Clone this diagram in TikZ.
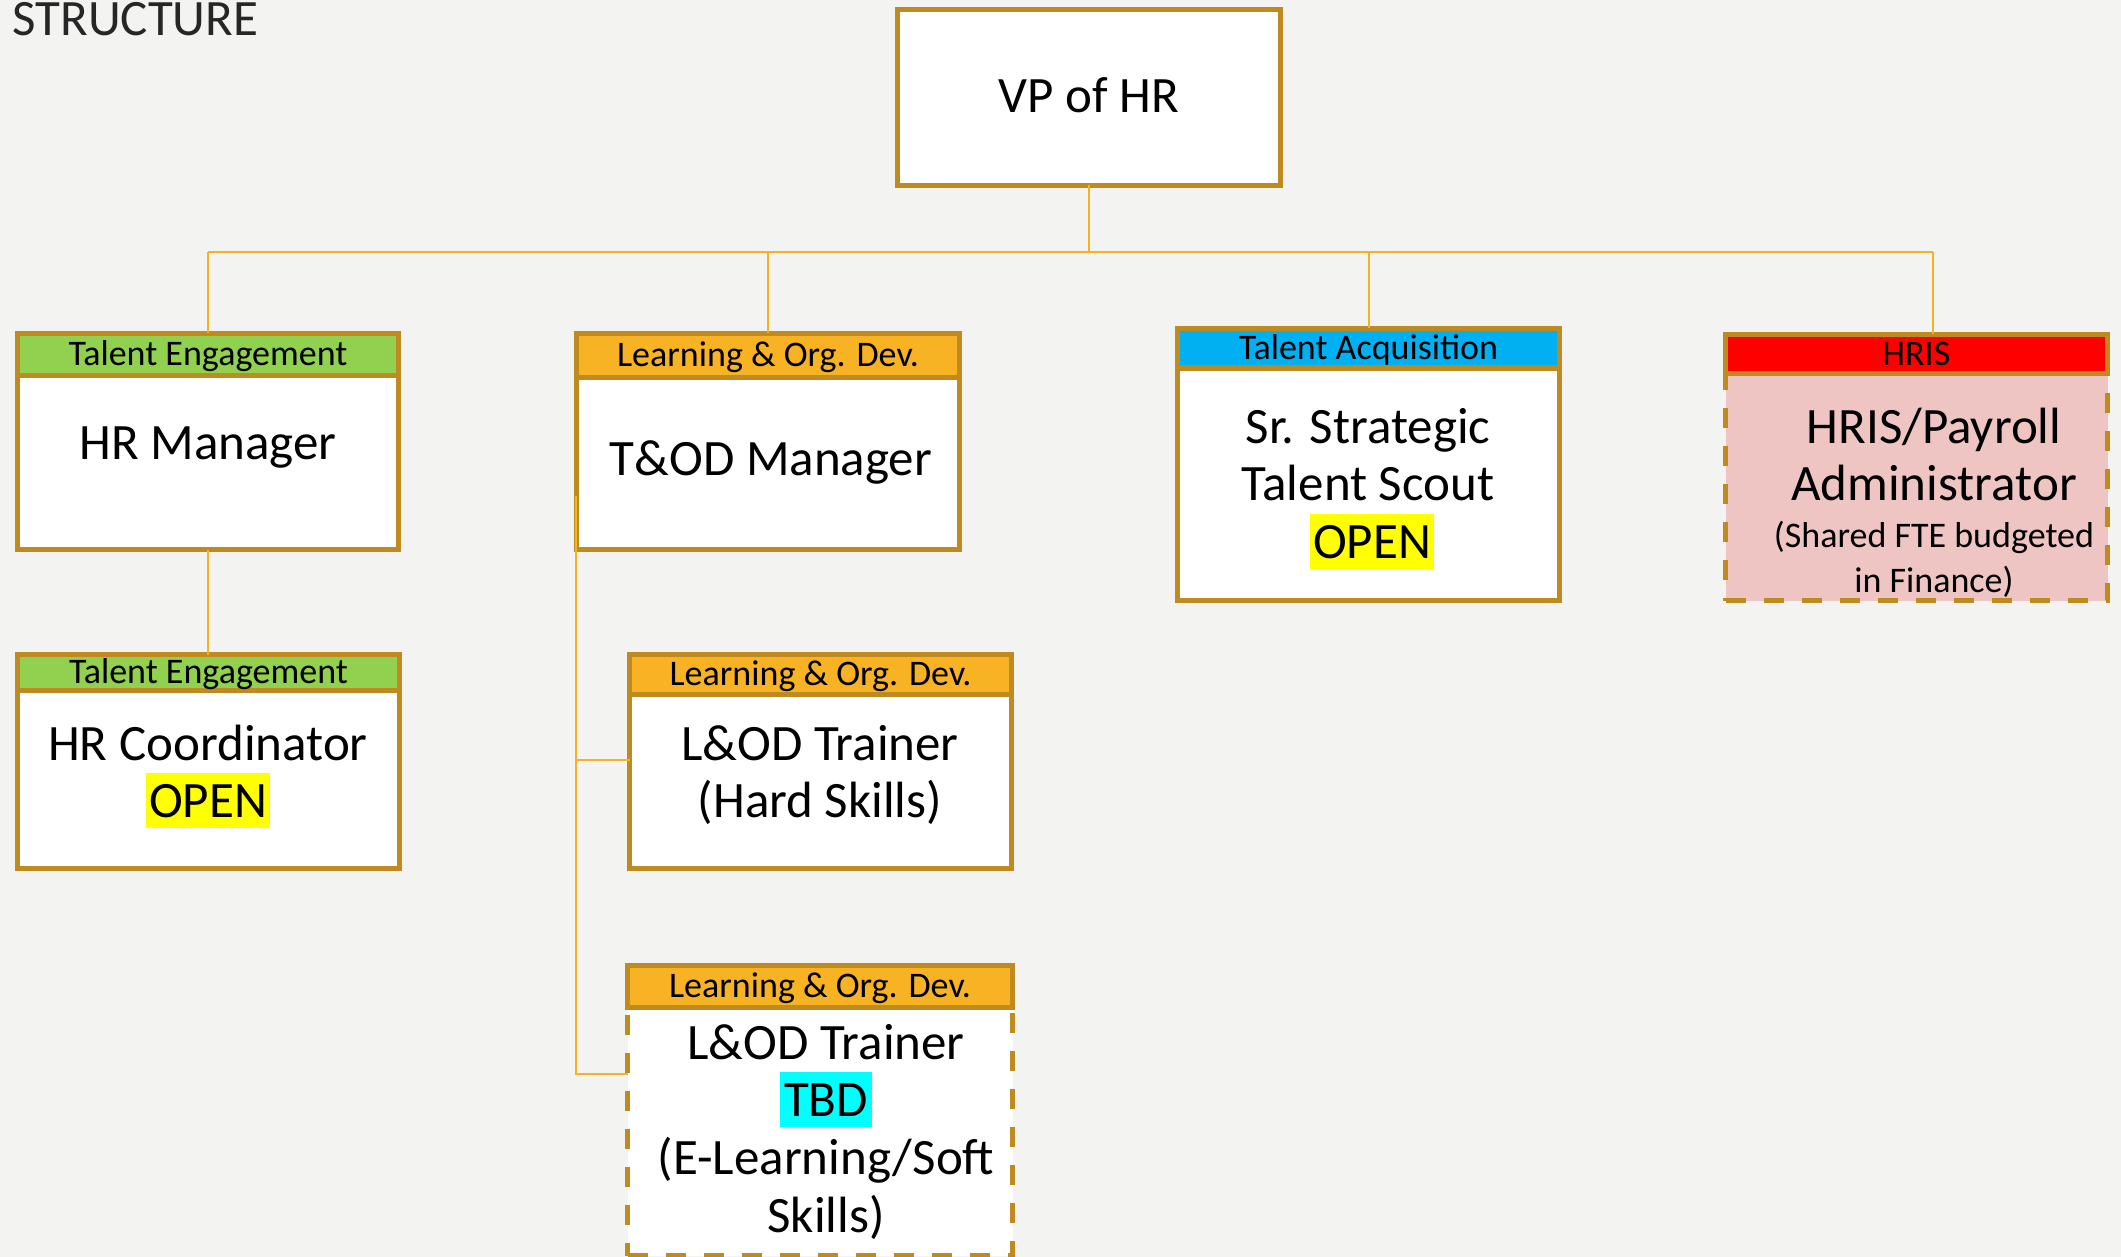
\documentclass[tikz,border=0pt]{standalone}
\usepackage{fontspec}
\setmainfont{Carlito}
\definecolor{bgc}{HTML}{F3F3F1}
\definecolor{gold}{HTML}{BF8A1F}
\definecolor{connc}{HTML}{F5B225}
\definecolor{tegreen}{HTML}{92D050}
\definecolor{lodorange}{HTML}{F7B324}
\definecolor{tablue}{HTML}{00B0F0}
\definecolor{hrisred}{HTML}{FF0000}
\definecolor{hrispink}{HTML}{EEC5C3}
\definecolor{titlec}{HTML}{262626}
\definecolor{hlyellow}{HTML}{FFFF00}
\definecolor{hlcyan}{HTML}{00FFFF}
\newcommand\mainsz{\fontsize{25.5pt}{28.75pt}\selectfont}
\newcommand\hdrsz{\fontsize{18pt}{20pt}\selectfont}
\newcommand\smallsz{\fontsize{18pt}{22.5pt}\selectfont}
\tikzset{
  box/.style={draw=gold, line width=2.5pt, inner sep=0pt, outer sep=0pt, fill=white},
  hdr/.style={box, font=\hdrsz, text height=11.6pt, text depth=0pt},
  dashbody/.style={box, dash pattern=on 10pt off 9pt},
  txt/.style={inner sep=0pt, anchor=base, font=\mainsz},
  smalltxt/.style={inner sep=0pt, anchor=base, font=\smallsz},
  hlnode/.style={txt, inner xsep=1.5pt, text height=22pt, text depth=5.5pt},
  conn/.style={draw=connc, line width=1pt},
}
\begin{document}
\begin{tikzpicture}[x=0.5pt,y=-0.5pt]
\useasboundingbox (0,0) rectangle (2121,1257);
\fill[bgc] (0,0) rectangle (2121,1257);

\node[txt, anchor=base west, text=titlec] (title) at (12,36) {STRUCTURE};

% VP
\node[box, minimum width=191.5pt, minimum height=88pt] (vp) at (1089,97.5) {};
\node[txt] (vpt) at (1089,113) {VP of HR};

% Box 1
\node[box, minimum width=190.5pt, minimum height=87.25pt] (b1) at (208,462.25) {};
\node[hdr, fill=tegreen, minimum width=190.5pt, minimum height=20.75pt] (h1) at (208,354.25) {Talent Engagement};
\node[txt] (t1) at (208,459) {HR Manager};

% Box 2
\node[box, minimum width=191.5pt, minimum height=86.25pt] (b2) at (768,463.25) {};
\node[hdr, fill=lodorange, minimum width=191.5pt, minimum height=21.75pt] (h2) at (768,355.25) {Learning \& Org. Dev.};
\node[txt] (t2) at (771,475) {T\&OD Manager};

% Box 3
\node[box, minimum width=191pt, minimum height=116.25pt] (b3) at (1368.5,484.25) {};
\node[hdr, fill=tablue, minimum width=191pt, minimum height=19.75pt] (h3) at (1368.5,348.25) {Talent Acquisition};
\node[txt] (t3a) at (1368,443) {Sr. Strategic};
\node[txt] (t3b) at (1368,500) {Talent Scout};
\node[hlnode, fill=hlyellow] (t3c) at (1372,558) {OPEN};

% Box 4
\node[dashbody, fill=hrispink, minimum width=191pt, minimum height=113.75pt] (b4) at (1916.5,486.75) {};
\node[hdr, fill=hrisred, minimum width=191pt, minimum height=19.25pt] (h4) at (1916.5,353.75) {HRIS};
\node[txt] (t4a) at (1934,443) {HRIS/Payroll};
\node[txt] (t4b) at (1934,500) {Administrator};
\node[smalltxt] (t4c) at (1934,547) {(Shared FTE budgeted};
\node[smalltxt] (t4d) at (1934,592) {in Finance)};

% Box 5
\node[box, minimum width=191pt, minimum height=89.25pt] (b5) at (208.5,779.25) {};
\node[hdr, fill=tegreen, minimum width=191pt, minimum height=17.75pt] (h5) at (208.5,672.25) {Talent Engagement};
\node[txt] (t5a) at (208,760) {HR Coordinator};
\node[hlnode, fill=hlyellow] (t5b) at (208,817) {OPEN};

% Box 6
\node[box, minimum width=191pt, minimum height=87.25pt] (b6) at (820.5,781.25) {};
\node[hdr, fill=lodorange, minimum width=191pt, minimum height=19.75pt] (h6) at (820.5,674.25) {Learning \& Org. Dev.};
\node[txt] (t6a) at (820,760) {L\&OD Trainer};
\node[txt] (t6b) at (820,817) {(Hard Skills)};

% Box 7
\node[dashbody, minimum width=192.5pt, minimum height=124.25pt] (b7) at (820,1131.25) {};
\node[hdr, fill=lodorange, minimum width=192.5pt, minimum height=20.75pt] (h7) at (820,986.25) {Learning \& Org. Dev.};
\node[txt] (t7a) at (826,1059) {L\&OD Trainer};
\node[hlnode, fill=hlcyan, inner xsep=2pt] (t7b) at (826,1116) {TBD};
\node[txt] (t7c) at (826,1174) {(E-Learning/Soft};
\node[txt] (t7d) at (826,1232) {Skills)};

% connectors
\coordinate (busL) at (208,252);
\coordinate (busR) at (1933,252);
\coordinate (todL) at (576,496);
\coordinate (j6) at (576,760);
\coordinate (j7) at (576,1074);
\draw[conn] (vp.south) -- (vp.south |- busL);
\draw[conn] (busL) -- (busR);
\draw[conn] (busL) -- (busL |- h1.north);
\draw[conn] (h2.north |- busL) -- (h2.north);
\draw[conn] (h3.north |- busL) -- (h3.north);
\draw[conn] (busR) -- (busR |- h4.north);
\draw[conn] (b1.south) -- (b1.south |- h5.north);
\draw[conn] (todL) -- (j7) -- (j7 -| b7.west);
\draw[conn] (j6) -- (j6 -| b6.west);
\end{tikzpicture}
\end{document}
